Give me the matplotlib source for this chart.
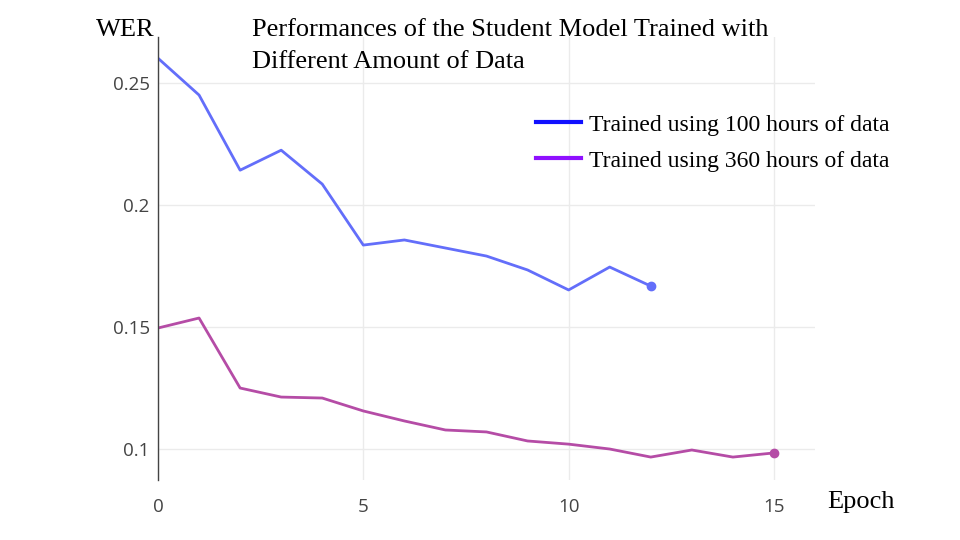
import matplotlib
matplotlib.use("Agg")
import matplotlib.pyplot as plt
from matplotlib.lines import Line2D

# dados
epocas_100 = list(range(0, 13))
wer_100 = [0.2602, 0.2451, 0.2143, 0.2225, 0.2086, 0.1836, 0.1857,
           0.1824, 0.1791, 0.1734, 0.1652, 0.1746, 0.1668]

epocas_360 = list(range(0, 16))
wer_360 = [0.1496, 0.1537, 0.1250, 0.1213, 0.1209, 0.1156, 0.1115, 0.1078,
           0.1070, 0.1033, 0.1020, 0.1000, 0.0967, 0.0996, 0.0967, 0.0984]

legendas = ["Trained using 100 hours of data", "Trained using 360 hours of data"]

cor_100 = "#636efa"
cor_360 = "#b54ca6"

fig = plt.figure(figsize=(9.6, 5.4), dpi=100)
ax = fig.add_axes([158 / 960, 1 - 480 / 540, (815 - 158) / 960, (480 - 37) / 540])

ax.plot(epocas_100, wer_100, color=cor_100, lw=2)
ax.plot(epocas_100[-1], wer_100[-1], "o", color=cor_100, ms=6)
ax.plot(epocas_360, wer_360, color=cor_360, lw=2)
ax.plot(epocas_360[-1], wer_360[-1], "o", color=cor_360, ms=6)

ax.set_xlim(0, 16)
ax.set_ylim(0.0873, 0.2689)
ax.set_xticks([0, 5, 10, 15])
ax.set_yticks([0.1, 0.15, 0.2, 0.25])
ax.set_yticklabels(["0.1", "0.15", "0.2", "0.25"])
ax.grid(True, color="#ebebeb", lw=1)
ax.set_axisbelow(True)

for lado in ["top", "right", "bottom"]:
    ax.spines[lado].set_visible(False)
ax.spines["left"].set_color("#444444")
ax.spines["left"].set_linewidth(1)

ax.tick_params(axis="both", length=0, labelsize=13.5, colors="#444444", labelfontfamily="Open Sans")
ax.tick_params(axis="x", pad=13)
ax.tick_params(axis="y", pad=6)

serif = "Liberation Serif"
fig.text(252 / 960, 1 - 36 / 540, "Performances of the Student Model Trained with",
         fontsize=19, family=serif, va="baseline", ha="left")
fig.text(252 / 960, 1 - 68 / 540, "Different Amount of Data",
         fontsize=19, family=serif, va="baseline", ha="left")
fig.text(96 / 960, 1 - 36 / 540, "WER", fontsize=19, family=serif, va="baseline", ha="left")
fig.text(827 / 960, 1 - 508 / 540, "Epoch", fontsize=19, family=serif, va="baseline", ha="left")

handles = [Line2D([], [], color="#1010ff", lw=3),
           Line2D([], [], color="#8f10ff", lw=3)]
fig.legend(handles, legendas, loc="upper left", bbox_to_anchor=(536 / 960, 1 - 114 / 540),
           frameon=False, prop={"family": serif, "size": 17}, handlelength=1.9,
           handletextpad=0.35, labelspacing=0.62, borderaxespad=0, borderpad=0)

fig.savefig("out.png", dpi=100)
